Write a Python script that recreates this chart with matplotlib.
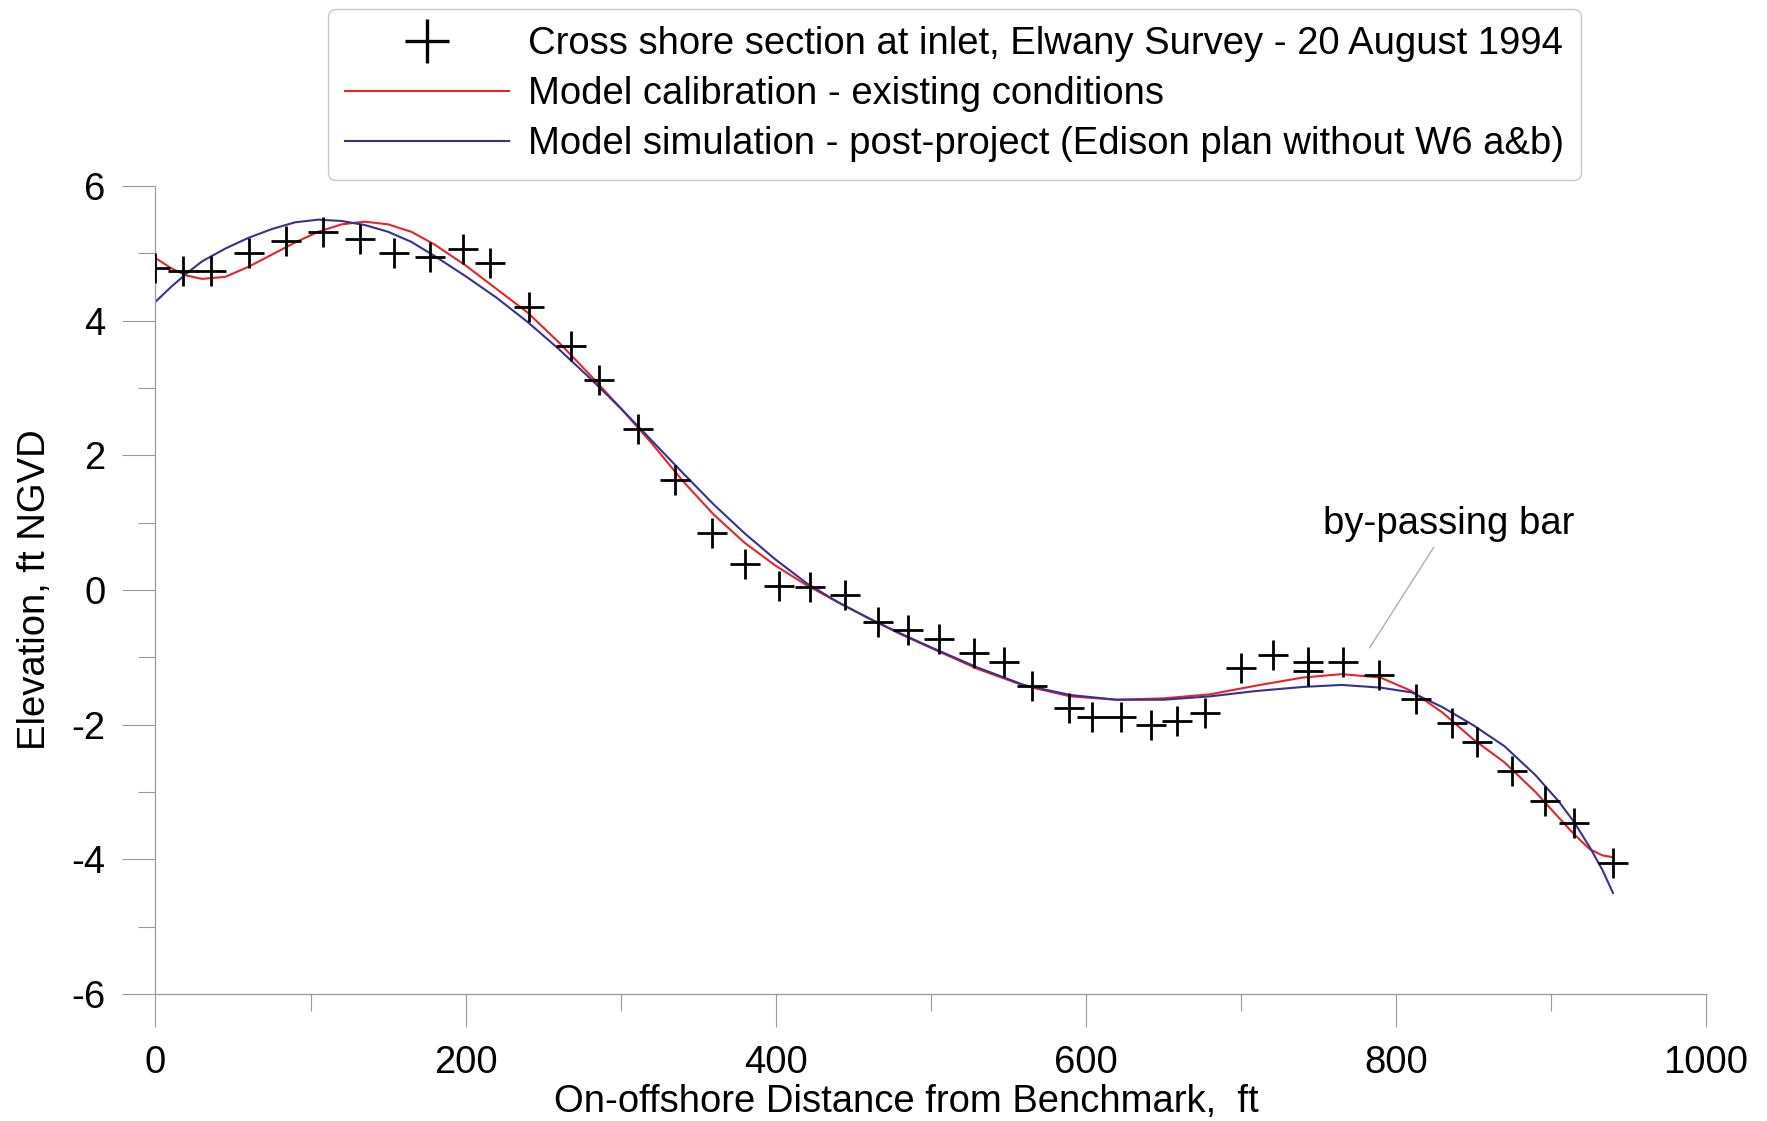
import matplotlib
matplotlib.use("Agg")
import matplotlib.pyplot as plt
from matplotlib.lines import Line2D
from matplotlib.ticker import MultipleLocator

# survey points (ft, ft NGVD)
survey_x = [0, 18, 36, 60, 84, 108, 132, 154, 177, 198, 216, 241, 268, 286, 311, 335,
            359, 380, 402, 422, 445, 466, 485, 505, 528, 547, 565, 589, 604, 623, 642,
            659, 677, 700, 721, 743, 743, 766, 789, 813, 836, 852, 875, 896, 915, 940]
survey_y = [4.78, 4.74, 4.74, 5.0, 5.18, 5.31, 5.21, 5.0, 4.95, 5.06, 4.86, 4.21, 3.62,
            3.12, 2.39, 1.63, 0.85, 0.38, 0.06, 0.04, -0.08, -0.48, -0.59, -0.73, -0.93,
            -1.07, -1.43, -1.75, -1.89, -1.89, -2.0, -1.94, -1.83, -1.16, -0.96, -1.07,
            -1.2, -1.07, -1.27, -1.62, -1.98, -2.26, -2.69, -3.14, -3.46, -4.05]

# model calibration - existing conditions
calib_x = [0, 10, 20, 30, 45, 60, 75, 90, 105, 120, 135, 150, 165, 180, 200, 220, 240,
           260, 280, 300, 320, 340, 360, 380, 400, 420, 440, 460, 480, 500, 530, 560,
           590, 620, 650, 680, 710, 740, 765, 790, 810, 830, 850, 870, 890, 905, 915,
           925, 933, 940]
calib_y = [4.93, 4.78, 4.67, 4.62, 4.65, 4.80, 4.98, 5.16, 5.32, 5.43, 5.47, 5.43, 5.32,
           5.13, 4.82, 4.47, 4.12, 3.68, 3.20, 2.70, 2.18, 1.62, 1.12, 0.70, 0.36, 0.07,
           -0.18, -0.42, -0.65, -0.86, -1.17, -1.42, -1.58, -1.63, -1.61, -1.55, -1.42,
           -1.30, -1.25, -1.30, -1.50, -1.82, -2.22, -2.56, -3.00, -3.38, -3.63, -3.85,
           -3.94, -3.97]

# model simulation - post-project
sim_x = calib_x
sim_y = [4.28, 4.50, 4.70, 4.88, 5.07, 5.23, 5.36, 5.46, 5.50, 5.48, 5.42, 5.32, 5.17,
         4.96, 4.66, 4.34, 3.98, 3.58, 3.15, 2.70, 2.22, 1.74, 1.27, 0.84, 0.45, 0.10,
         -0.18, -0.42, -0.64, -0.85, -1.15, -1.41, -1.56, -1.63, -1.63, -1.58, -1.50,
         -1.44, -1.41, -1.45, -1.52, -1.74, -2.01, -2.32, -2.75, -3.14, -3.45, -3.82,
         -4.15, -4.50]

labels = [
    "Cross shore section at inlet, Elwany Survey - 20 August 1994",
    "Model calibration - existing conditions",
    "Model simulation - post-project (Edison plan without W6 a&b)",
]
note_text = "by-passing bar"
note_xy = (783, -0.86)
note_text_xy = (834, 0.98)

RED = "#e8232a"
BLUE = "#34348c"
GREY = "#9a9a9a"
FS = 27.5

plt.rcParams["font.family"] = ["Liberation Sans", "DejaVu Sans"]
plt.rcParams["axes.unicode_minus"] = False

fig = plt.figure(figsize=(17.67, 11.21), dpi=100)
ax = fig.add_axes([0.088, 0.1133, 0.8775, 0.7208])

ax.plot(survey_x, survey_y, linestyle="none", marker="+", color="black",
        markersize=21, markeredgewidth=2.0, zorder=3)
ax.plot(calib_x, calib_y, color=RED, linewidth=1.5, zorder=2)
ax.plot(sim_x, sim_y, color=BLUE, linewidth=1.5, zorder=2)

ax.set_xlim(0, 1000)
ax.set_ylim(-6, 6)
ax.xaxis.set_major_locator(MultipleLocator(200))
ax.xaxis.set_minor_locator(MultipleLocator(100))
ax.yaxis.set_major_locator(MultipleLocator(2))
ax.yaxis.set_minor_locator(MultipleLocator(1))

for side in ["top", "right"]:
    ax.spines[side].set_visible(False)
for side in ["left", "bottom"]:
    ax.spines[side].set_color(GREY)
    ax.spines[side].set_linewidth(0.9)

ax.tick_params(which="major", direction="out", length=24, width=0.8, color=GREY,
               labelsize=FS)
ax.tick_params(which="minor", direction="out", length=12, width=0.8, color=GREY)
ax.tick_params(axis="y", which="major", pad=12)
ax.tick_params(axis="x", which="major", pad=13)

ax.set_xlabel("On-offshore Distance from Benchmark,  ft", fontsize=FS)
ax.set_ylabel("Elevation, ft NGVD", fontsize=FS)
ax.xaxis.set_label_coords(0.484, -0.111)
ax.yaxis.set_label_coords(-0.066, 0.5)

ax.annotate(note_text, xy=note_xy, xytext=note_text_xy, fontsize=FS,
            ha="center", va="center",
            arrowprops=dict(arrowstyle="-", color="#b0b0b0", lw=1.0,
                            shrinkA=2, shrinkB=0))

handles = [
    Line2D([], [], linestyle="none", marker="+", color="black", markersize=32,
           markeredgewidth=2.4),
    Line2D([], [], color=RED, linewidth=1.5),
    Line2D([], [], color=BLUE, linewidth=1.5),
]
leg = fig.legend(handles, labels, loc="upper left", bbox_to_anchor=(0.1856, 0.992),
                 borderaxespad=0, fontsize=FS, handlelength=4.3, handletextpad=0.48,
                 labelspacing=0.37, borderpad=0.45, fancybox=True, framealpha=1)
leg.get_frame().set_edgecolor("#c8c8c8")
leg.get_frame().set_linewidth(1.0)

fig.savefig("out.png", dpi=100, facecolor="white")
